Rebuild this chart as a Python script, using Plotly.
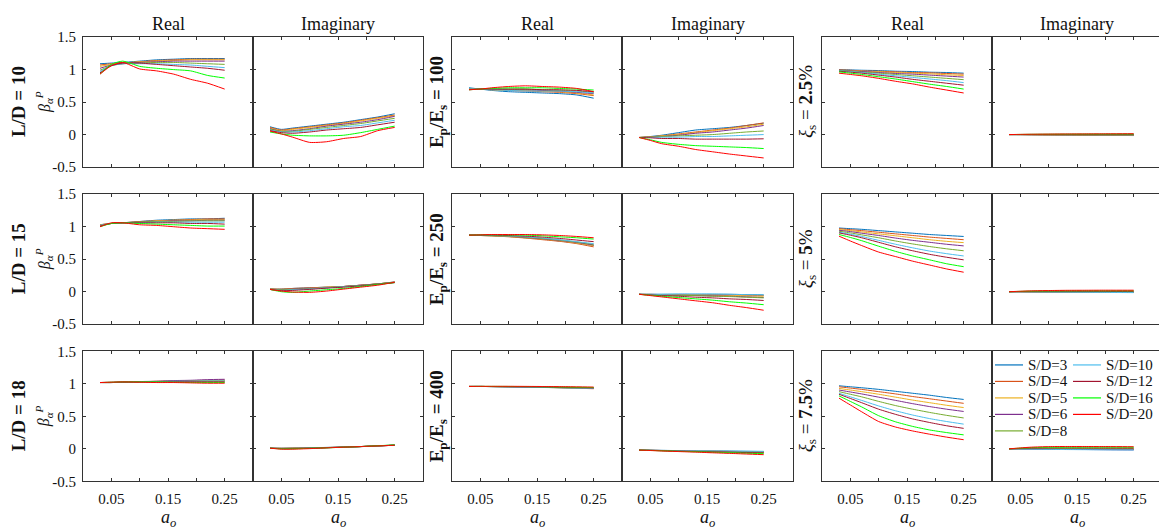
import plotly.graph_objects as go

# dimensionless frequency grid shared by every curve
a_o = [0.03, 0.05, 0.07, 0.10, 0.13, 0.16, 0.19, 0.22, 0.25]
sd_values = [3, 4, 5, 6, 8, 10, 12, 16, 20]
colors = ["#0072BD", "#D95319", "#EDB120", "#7E2F8E", "#77AC30",
          "#4DBEEE", "#A2142F", "#00FF00", "#FF0000"]

# ---- slenderness L/D ----
real_ld10 = [
    [1.09, 1.10, 1.11, 1.13, 1.15, 1.16, 1.17, 1.17, 1.17],
    [1.07, 1.09, 1.10, 1.12, 1.14, 1.15, 1.16, 1.16, 1.16],
    [1.05, 1.08, 1.10, 1.12, 1.13, 1.14, 1.15, 1.15, 1.15],
    [1.02, 1.07, 1.09, 1.11, 1.12, 1.13, 1.13, 1.13, 1.13],
    [0.99, 1.06, 1.09, 1.10, 1.11, 1.11, 1.10, 1.09, 1.08],
    [0.97, 1.06, 1.09, 1.09, 1.09, 1.08, 1.07, 1.05, 1.03],
    [0.95, 1.06, 1.10, 1.10, 1.08, 1.06, 1.04, 1.02, 0.99],
    [0.93, 1.08, 1.13, 1.05, 1.02, 1.00, 0.98, 0.91, 0.87],
    [0.93, 1.06, 1.11, 1.01, 0.98, 0.93, 0.85, 0.79, 0.70],
]
imag_ld10 = [
    [0.12, 0.08, 0.10, 0.13, 0.16, 0.19, 0.23, 0.27, 0.32],
    [0.11, 0.07, 0.09, 0.12, 0.15, 0.18, 0.22, 0.26, 0.30],
    [0.10, 0.06, 0.08, 0.11, 0.14, 0.17, 0.21, 0.25, 0.29],
    [0.09, 0.05, 0.06, 0.09, 0.13, 0.16, 0.19, 0.23, 0.28],
    [0.08, 0.05, 0.05, 0.08, 0.11, 0.14, 0.17, 0.21, 0.25],
    [0.07, 0.04, 0.04, 0.06, 0.09, 0.12, 0.14, 0.18, 0.22],
    [0.06, 0.03, 0.02, 0.04, 0.07, 0.09, 0.11, 0.15, 0.19],
    [0.04, 0.01, -0.01, -0.02, -0.02, -0.01, 0.03, 0.08, 0.13],
    [0.055, 0.01, -0.04, -0.12, -0.11, -0.06, -0.03, 0.06, 0.11],
]
real_ld15 = [
    [1.03, 1.05, 1.06, 1.08, 1.10, 1.11, 1.12, 1.12, 1.13],
    [1.03, 1.05, 1.06, 1.08, 1.09, 1.10, 1.11, 1.12, 1.12],
    [1.03, 1.05, 1.06, 1.07, 1.09, 1.10, 1.10, 1.11, 1.11],
    [1.02, 1.05, 1.06, 1.07, 1.08, 1.09, 1.09, 1.10, 1.10],
    [1.02, 1.05, 1.06, 1.07, 1.08, 1.08, 1.09, 1.09, 1.09],
    [1.02, 1.05, 1.06, 1.06, 1.07, 1.07, 1.07, 1.07, 1.07],
    [1.01, 1.05, 1.06, 1.06, 1.06, 1.06, 1.05, 1.05, 1.04],
    [1.00, 1.05, 1.06, 1.05, 1.04, 1.03, 1.02, 1.01, 1.01],
    [1.00, 1.06, 1.06, 1.03, 1.02, 1.00, 0.98, 0.97, 0.96],
]
imag_ld15 = [
    [0.04, 0.04, 0.05, 0.06, 0.07, 0.08, 0.10, 0.12, 0.15],
    [0.04, 0.04, 0.05, 0.06, 0.07, 0.08, 0.10, 0.12, 0.15],
    [0.04, 0.035, 0.04, 0.05, 0.07, 0.08, 0.10, 0.12, 0.145],
    [0.04, 0.03, 0.04, 0.05, 0.06, 0.08, 0.10, 0.12, 0.145],
    [0.04, 0.03, 0.035, 0.045, 0.06, 0.08, 0.095, 0.12, 0.145],
    [0.035, 0.02, 0.03, 0.04, 0.06, 0.075, 0.09, 0.115, 0.14],
    [0.035, 0.015, 0.02, 0.035, 0.055, 0.07, 0.09, 0.115, 0.14],
    [0.035, 0.0, -0.01, 0.01, 0.03, 0.05, 0.08, 0.11, 0.14],
    [0.035, 0.01, -0.005, -0.01, 0.01, 0.04, 0.07, 0.10, 0.145],
]
real_ld18 = [
    [1.02, 1.02, 1.025, 1.03, 1.035, 1.04, 1.045, 1.05, 1.05],
    [1.02, 1.02, 1.025, 1.03, 1.04, 1.045, 1.05, 1.055, 1.06],
    [1.02, 1.02, 1.025, 1.03, 1.035, 1.04, 1.045, 1.05, 1.05],
    [1.02, 1.02, 1.025, 1.035, 1.04, 1.05, 1.055, 1.065, 1.07],
    [1.02, 1.02, 1.025, 1.03, 1.035, 1.035, 1.04, 1.04, 1.04],
    [1.02, 1.02, 1.025, 1.03, 1.035, 1.04, 1.04, 1.045, 1.045],
    [1.02, 1.025, 1.025, 1.03, 1.03, 1.03, 1.03, 1.03, 1.03],
    [1.02, 1.025, 1.03, 1.03, 1.03, 1.025, 1.02, 1.02, 1.02],
    [1.02, 1.025, 1.03, 1.025, 1.02, 1.02, 1.015, 1.01, 1.01],
]
imag_ld18 = [
    [0.01, 0.01, 0.012, 0.016, 0.022, 0.028, 0.035, 0.045, 0.055],
    [0.01, 0.008, 0.01, 0.015, 0.02, 0.027, 0.035, 0.045, 0.055],
    [0.01, 0.007, 0.009, 0.014, 0.02, 0.027, 0.035, 0.045, 0.055],
    [0.01, 0.006, 0.008, 0.013, 0.019, 0.026, 0.034, 0.044, 0.055],
    [0.01, 0.005, 0.007, 0.012, 0.018, 0.026, 0.034, 0.045, 0.057],
    [0.01, 0.004, 0.005, 0.011, 0.018, 0.026, 0.035, 0.046, 0.058],
    [0.01, 0.002, 0.003, 0.01, 0.017, 0.026, 0.035, 0.046, 0.058],
    [0.01, 0.0, 0.0, 0.008, 0.015, 0.025, 0.035, 0.048, 0.06],
    [0.01, -0.005, -0.005, 0.003, 0.015, 0.025, 0.035, 0.045, 0.055],
]

# ---- stiffness ratio Ep/Es ----
real_ep100 = [
    [0.72, 0.70, 0.68, 0.66, 0.65, 0.64, 0.63, 0.61, 0.56],
    [0.70, 0.70, 0.69, 0.68, 0.67, 0.66, 0.65, 0.63, 0.60],
    [0.70, 0.70, 0.69, 0.68, 0.68, 0.67, 0.66, 0.64, 0.61],
    [0.70, 0.70, 0.70, 0.69, 0.69, 0.68, 0.67, 0.65, 0.63],
    [0.70, 0.70, 0.70, 0.70, 0.70, 0.69, 0.68, 0.67, 0.65],
    [0.70, 0.70, 0.69, 0.68, 0.67, 0.67, 0.67, 0.66, 0.64],
    [0.69, 0.70, 0.70, 0.70, 0.70, 0.69, 0.69, 0.68, 0.66],
    [0.69, 0.70, 0.71, 0.72, 0.72, 0.72, 0.71, 0.70, 0.685],
    [0.69, 0.70, 0.72, 0.74, 0.75, 0.74, 0.73, 0.71, 0.66],
]
imag_ep100 = [
    [-0.045, -0.03, -0.01, 0.03, 0.07, 0.09, 0.11, 0.14, 0.175],
    [-0.045, -0.035, -0.02, 0.01, 0.04, 0.07, 0.10, 0.14, 0.18],
    [-0.045, -0.035, -0.02, 0.00, 0.03, 0.06, 0.09, 0.12, 0.16],
    [-0.045, -0.04, -0.03, -0.01, 0.02, 0.04, 0.07, 0.10, 0.14],
    [-0.045, -0.04, -0.03, -0.02, -0.01, 0.00, 0.02, 0.04, 0.055],
    [-0.045, -0.045, -0.04, -0.04, -0.03, -0.03, -0.02, -0.01, 0.00],
    [-0.045, -0.05, -0.06, -0.06, -0.07, -0.07, -0.07, -0.07, -0.065],
    [-0.045, -0.08, -0.12, -0.15, -0.17, -0.18, -0.19, -0.20, -0.215],
    [-0.045, -0.09, -0.14, -0.18, -0.23, -0.265, -0.30, -0.33, -0.36],
]
real_ep250 = [
    [0.87, 0.865, 0.86, 0.85, 0.83, 0.81, 0.78, 0.75, 0.71],
    [0.87, 0.865, 0.86, 0.845, 0.825, 0.80, 0.775, 0.74, 0.69],
    [0.87, 0.865, 0.86, 0.85, 0.83, 0.81, 0.785, 0.75, 0.71],
    [0.87, 0.87, 0.865, 0.855, 0.835, 0.815, 0.79, 0.76, 0.72],
    [0.87, 0.87, 0.865, 0.855, 0.84, 0.82, 0.795, 0.765, 0.73],
    [0.87, 0.87, 0.865, 0.86, 0.845, 0.825, 0.80, 0.77, 0.74],
    [0.87, 0.87, 0.87, 0.865, 0.855, 0.84, 0.82, 0.795, 0.77],
    [0.87, 0.875, 0.875, 0.875, 0.87, 0.86, 0.845, 0.83, 0.81],
    [0.87, 0.875, 0.88, 0.88, 0.88, 0.875, 0.865, 0.85, 0.83],
]
imag_ep250 = [
    [-0.04, -0.04, -0.04, -0.04, -0.04, -0.04, -0.04, -0.045, -0.05],
    [-0.04, -0.04, -0.045, -0.045, -0.05, -0.05, -0.05, -0.055, -0.06],
    [-0.04, -0.045, -0.045, -0.05, -0.05, -0.055, -0.06, -0.065, -0.07],
    [-0.04, -0.045, -0.05, -0.055, -0.06, -0.065, -0.07, -0.08, -0.09],
    [-0.04, -0.045, -0.05, -0.055, -0.06, -0.07, -0.075, -0.085, -0.095],
    [-0.04, -0.04, -0.04, -0.035, -0.035, -0.035, -0.04, -0.045, -0.05],
    [-0.04, -0.05, -0.06, -0.07, -0.085, -0.095, -0.11, -0.12, -0.135],
    [-0.04, -0.055, -0.07, -0.09, -0.11, -0.13, -0.155, -0.175, -0.20],
    [-0.04, -0.06, -0.08, -0.11, -0.14, -0.17, -0.21, -0.245, -0.285],
]
real_ep400 = [
    [0.96, 0.96, 0.958, 0.955, 0.952, 0.948, 0.943, 0.937, 0.93],
    [0.96, 0.96, 0.958, 0.955, 0.951, 0.946, 0.94, 0.933, 0.925],
    [0.96, 0.96, 0.958, 0.954, 0.95, 0.945, 0.94, 0.934, 0.928],
    [0.96, 0.96, 0.958, 0.955, 0.951, 0.947, 0.942, 0.936, 0.93],
    [0.96, 0.96, 0.958, 0.955, 0.952, 0.948, 0.944, 0.939, 0.934],
    [0.96, 0.96, 0.957, 0.953, 0.948, 0.944, 0.94, 0.936, 0.932],
    [0.96, 0.96, 0.959, 0.957, 0.954, 0.951, 0.947, 0.943, 0.938],
    [0.96, 0.961, 0.961, 0.96, 0.958, 0.955, 0.952, 0.948, 0.944],
    [0.96, 0.961, 0.962, 0.962, 0.961, 0.959, 0.957, 0.954, 0.95],
]
imag_ep400 = [
    [-0.02, -0.022, -0.024, -0.027, -0.03, -0.033, -0.036, -0.039, -0.042],
    [-0.02, -0.022, -0.025, -0.028, -0.032, -0.035, -0.039, -0.043, -0.047],
    [-0.02, -0.023, -0.026, -0.03, -0.034, -0.038, -0.042, -0.046, -0.05],
    [-0.02, -0.023, -0.026, -0.031, -0.036, -0.04, -0.045, -0.049, -0.054],
    [-0.02, -0.023, -0.027, -0.032, -0.037, -0.042, -0.047, -0.052, -0.057],
    [-0.02, -0.022, -0.024, -0.027, -0.03, -0.032, -0.034, -0.036, -0.038],
    [-0.02, -0.024, -0.028, -0.034, -0.04, -0.046, -0.052, -0.058, -0.064],
    [-0.02, -0.025, -0.03, -0.038, -0.045, -0.053, -0.06, -0.068, -0.075],
    [-0.02, -0.026, -0.033, -0.042, -0.051, -0.061, -0.07, -0.08, -0.09],
]

# ---- soil damping xi_s ----
real_xi25 = [
    [1.00, 0.995, 0.99, 0.985, 0.975, 0.97, 0.96, 0.955, 0.945],
    [0.995, 0.99, 0.98, 0.975, 0.965, 0.955, 0.95, 0.94, 0.93],
    [0.99, 0.985, 0.975, 0.965, 0.955, 0.945, 0.935, 0.92, 0.91],
    [0.99, 0.98, 0.97, 0.955, 0.94, 0.93, 0.915, 0.90, 0.885],
    [0.985, 0.975, 0.96, 0.945, 0.925, 0.905, 0.885, 0.865, 0.845],
    [0.98, 0.97, 0.955, 0.93, 0.905, 0.88, 0.855, 0.83, 0.80],
    [0.975, 0.96, 0.945, 0.915, 0.885, 0.85, 0.82, 0.79, 0.76],
    [0.965, 0.945, 0.925, 0.89, 0.855, 0.815, 0.775, 0.74, 0.70],
    [0.945, 0.925, 0.905, 0.865, 0.82, 0.78, 0.73, 0.685, 0.64],
]
imag_xi25 = [
    [0.0, -0.002, -0.004, -0.006, -0.008, -0.010, -0.012, -0.013, -0.015],
    [0.0, -0.001, -0.003, -0.005, -0.006, -0.008, -0.009, -0.010, -0.012],
    [0.0, -0.001, -0.002, -0.003, -0.004, -0.005, -0.006, -0.007, -0.008],
    [0.0, 0.0, -0.001, -0.002, -0.003, -0.003, -0.004, -0.005, -0.006],
    [0.0, 0.0, 0.0, -0.001, -0.001, -0.002, -0.002, -0.003, -0.004],
    [0.0, 0.001, 0.001, 0.001, 0.0, 0.0, -0.001, -0.001, -0.002],
    [0.0, 0.001, 0.002, 0.003, 0.003, 0.003, 0.003, 0.003, 0.003],
    [0.0, 0.002, 0.004, 0.005, 0.006, 0.007, 0.007, 0.008, 0.008],
    [0.0, 0.003, 0.005, 0.007, 0.009, 0.010, 0.011, 0.012, 0.013],
]
real_xi5 = [
    [0.98, 0.97, 0.96, 0.94, 0.92, 0.90, 0.88, 0.865, 0.85],
    [0.97, 0.955, 0.94, 0.915, 0.89, 0.865, 0.84, 0.82, 0.80],
    [0.955, 0.94, 0.92, 0.89, 0.86, 0.83, 0.80, 0.775, 0.755],
    [0.945, 0.925, 0.90, 0.865, 0.825, 0.79, 0.76, 0.73, 0.705],
    [0.93, 0.905, 0.875, 0.83, 0.78, 0.735, 0.695, 0.66, 0.63],
    [0.915, 0.885, 0.85, 0.79, 0.73, 0.675, 0.625, 0.585, 0.55],
    [0.905, 0.87, 0.83, 0.76, 0.69, 0.63, 0.575, 0.53, 0.49],
    [0.88, 0.835, 0.785, 0.70, 0.62, 0.55, 0.49, 0.43, 0.385],
    [0.855, 0.78, 0.71, 0.61, 0.54, 0.47, 0.41, 0.35, 0.30],
]
imag_xi5 = [
    [0.0, -0.002, -0.004, -0.006, -0.008, -0.009, -0.010, -0.011, -0.012],
    [0.0, -0.001, -0.003, -0.004, -0.006, -0.007, -0.008, -0.009, -0.010],
    [0.0, -0.001, -0.002, -0.003, -0.004, -0.005, -0.006, -0.007, -0.008],
    [0.0, 0.0, -0.001, -0.002, -0.003, -0.004, -0.005, -0.006, -0.007],
    [0.0, 0.001, 0.001, 0.0, -0.001, -0.002, -0.003, -0.004, -0.005],
    [0.0, 0.0, -0.002, -0.004, -0.006, -0.008, -0.010, -0.012, -0.014],
    [0.0, 0.003, 0.005, 0.006, 0.006, 0.006, 0.006, 0.005, 0.005],
    [0.0, 0.005, 0.009, 0.012, 0.013, 0.014, 0.014, 0.014, 0.014],
    [0.0, 0.007, 0.013, 0.018, 0.021, 0.022, 0.023, 0.023, 0.023],
]
real_xi75 = [
    [0.97, 0.955, 0.94, 0.915, 0.885, 0.855, 0.825, 0.79, 0.76],
    [0.955, 0.935, 0.915, 0.88, 0.845, 0.805, 0.77, 0.735, 0.70],
    [0.93, 0.905, 0.88, 0.84, 0.795, 0.75, 0.71, 0.67, 0.635],
    [0.905, 0.875, 0.845, 0.795, 0.745, 0.695, 0.65, 0.61, 0.575],
    [0.88, 0.84, 0.80, 0.73, 0.665, 0.61, 0.56, 0.515, 0.475],
    [0.855, 0.80, 0.745, 0.66, 0.585, 0.52, 0.465, 0.42, 0.38],
    [0.84, 0.775, 0.71, 0.61, 0.53, 0.46, 0.405, 0.355, 0.315],
    [0.815, 0.73, 0.645, 0.51, 0.415, 0.345, 0.29, 0.25, 0.215],
    [0.78, 0.675, 0.57, 0.42, 0.335, 0.275, 0.225, 0.18, 0.14],
]
imag_xi75 = [
    [0.0, -0.002, -0.004, -0.006, -0.008, -0.010, -0.011, -0.012, -0.013],
    [0.0, 0.0, -0.001, -0.003, -0.004, -0.005, -0.006, -0.007, -0.008],
    [0.0, 0.002, 0.003, 0.002, 0.001, 0.0, -0.001, -0.002, -0.003],
    [0.0, 0.0, -0.002, -0.005, -0.008, -0.010, -0.012, -0.014, -0.015],
    [0.0, 0.004, 0.006, 0.007, 0.006, 0.005, 0.004, 0.003, 0.002],
    [0.0, -0.002, -0.005, -0.008, -0.011, -0.013, -0.015, -0.016, -0.017],
    [0.0, 0.006, 0.011, 0.014, 0.015, 0.015, 0.014, 0.013, 0.012],
    [0.0, 0.010, 0.018, 0.024, 0.026, 0.027, 0.027, 0.026, 0.025],
    [0.0, 0.014, 0.026, 0.034, 0.036, 0.036, 0.035, 0.034, 0.032],
]

# grid of panels: rows x columns (Real / Imaginary pairs per parameter group)
panels = [
    [real_ld10, imag_ld10, real_ep100, imag_ep100, real_xi25, imag_xi25],
    [real_ld15, imag_ld15, real_ep250, imag_ep250, real_xi5, imag_xi5],
    [real_ld18, imag_ld18, real_ep400, imag_ep400, real_xi75, imag_xi75],
]
ld_labels = ["10", "15", "18"]
ep_labels = ["100", "250", "400"]
xi_labels = ["2.5", "5", "7.5"]

W, H = 1159, 532
FONT = "Liberation Serif"
TXT = "#111111"
AXCOL = "#333333"

col_px = [(83, 253), (253, 423), (452, 622), (622, 793), (822, 992), (992, 1159)]
row_px = [(30, 164), (192, 326), (354, 488)]


def px_x(p):
    return p / W


def px_y(p):
    return 1 - p / H


fig = go.Figure()
layout = dict(
    width=W, height=H, margin=dict(l=0, r=0, t=0, b=0),
    paper_bgcolor="white", plot_bgcolor="white",
    font=dict(family=FONT, size=15, color=TXT),
    showlegend=False,
)

idx = 0
for r in range(3):
    for c in range(6):
        idx += 1
        xname = "xaxis" if idx == 1 else f"xaxis{idx}"
        yname = "yaxis" if idx == 1 else f"yaxis{idx}"
        xref = "x" if idx == 1 else f"x{idx}"
        yref = "y" if idx == 1 else f"y{idx}"
        x0, x1 = col_px[c]
        y0, y1 = row_px[r]
        xmax = 0.3 * (x1 - x0) / 170.0
        layout[xname] = dict(
            domain=[px_x(x0), px_x(x1)], anchor=yref, range=[0, xmax],
            showline=True, linecolor=AXCOL, linewidth=1, mirror="allticks",
            ticks="inside", ticklen=3, tickcolor=AXCOL, tickwidth=1,
            tickvals=[0.05, 0.10, 0.15, 0.20, 0.25],
            ticktext=["0.05", "", "0.15", "", "0.25"],
            showticklabels=(r == 2), showgrid=False, zeroline=False,
            tickfont=dict(family=FONT, size=15, color=TXT),
            ticklabelstandoff=4,
            fixedrange=True,
        )
        layout[yname] = dict(
            domain=[px_y(y1), px_y(y0)], anchor=xref, range=[-0.5, 1.5],
            showline=True, linecolor=AXCOL, linewidth=1,
            mirror=("allticks" if c < 5 else False),
            ticks="inside", ticklen=3, tickcolor=AXCOL, tickwidth=1,
            tickvals=[-0.5, 0, 0.5, 1, 1.5],
            ticktext=["-0.5", "0", "0.5", "1", "1.5"],
            showticklabels=(c == 0), showgrid=False, zeroline=False,
            tickfont=dict(family=FONT, size=15, color=TXT),
            ticklabelstandoff=3,
            fixedrange=True,
        )
        data = panels[r][c]
        for k, sd in enumerate(sd_values):
            fig.add_trace(go.Scatter(
                x=a_o, y=data[k], xaxis=xref, yaxis=yref, mode="lines",
                line=dict(color=colors[k], width=1, shape="spline", smoothing=0.6),
                name=f"S/D={sd}", showlegend=False, hoverinfo="skip",
            ))

annotations = []
# column titles and x-axis labels
for c in range(6):
    x0, x1 = col_px[c]
    cx = (x0 + 170 / 2) if c == 5 else (x0 + x1) / 2
    annotations.append(dict(
        text="Real" if c % 2 == 0 else "Imaginary",
        x=px_x(cx), y=px_y(16), xref="paper", yref="paper",
        showarrow=False, font=dict(family=FONT, size=18, color=TXT),
        xanchor="center", yanchor="middle"))
    annotations.append(dict(
        text="<i>a<sub>o</sub></i>",
        x=px_x(cx), y=px_y(512), xref="paper", yref="paper",
        showarrow=False, font=dict(family=FONT, size=18, color=TXT),
        xanchor="center", yanchor="top"))

# row labels for each parameter group
for r in range(3):
    cy = px_y((row_px[r][0] + row_px[r][1]) / 2)
    annotations.append(dict(
        text=f"<b>L/D = {ld_labels[r]}</b>", x=px_x(18), y=cy,
        xref="paper", yref="paper", textangle=-90, showarrow=False,
        font=dict(family=FONT, size=19, color=TXT),
        xanchor="center", yanchor="middle"))
    annotations.append(dict(
        text="<i>β</i><sub><i>α</i></sub><sup><i>P</i></sup>", x=px_x(44), y=cy,
        xref="paper", yref="paper", textangle=-90, showarrow=False,
        font=dict(family=FONT, size=16, color=TXT),
        xanchor="center", yanchor="middle"))
    annotations.append(dict(
        text=f"<b>E<sub>p</sub>/E<sub>s</sub> = {ep_labels[r]}</b>", x=px_x(438), y=cy,
        xref="paper", yref="paper", textangle=-90, showarrow=False,
        font=dict(family=FONT, size=19, color=TXT),
        xanchor="center", yanchor="middle"))
    annotations.append(dict(
        text=f"<i>ξ</i><sub>s</sub> = <b>{xi_labels[r]}</b>%", x=px_x(807), y=cy,
        xref="paper", yref="paper", textangle=-90, showarrow=False,
        font=dict(family=FONT, size=19, color=TXT),
        xanchor="center", yanchor="middle"))

# two-column key inside the lower-right panel (S/D=3..8 left, 10..20 right)
shapes = []
key_rows = [368, 385, 402, 419, 436]
key_cols = [(995, 1023, 1026), (1073, 1101, 1104)]
for k, sd in enumerate(sd_values):
    col = 0 if k < 5 else 1
    row = k if k < 5 else k - 5
    lx0, lx1, tx = key_cols[col]
    ky = px_y(key_rows[row])
    shapes.append(dict(type="line", xref="paper", yref="paper",
                       x0=px_x(lx0), x1=px_x(lx1), y0=ky, y1=ky,
                       line=dict(color=colors[k], width=1.2)))
    annotations.append(dict(
        text=f"S/D={sd}", x=px_x(tx), y=ky, xref="paper", yref="paper",
        showarrow=False, font=dict(family=FONT, size=15, color=TXT),
        xanchor="left", yanchor="middle"))

layout["annotations"] = annotations
layout["shapes"] = shapes

fig.update_layout(**layout)
fig.write_html("out.html")
